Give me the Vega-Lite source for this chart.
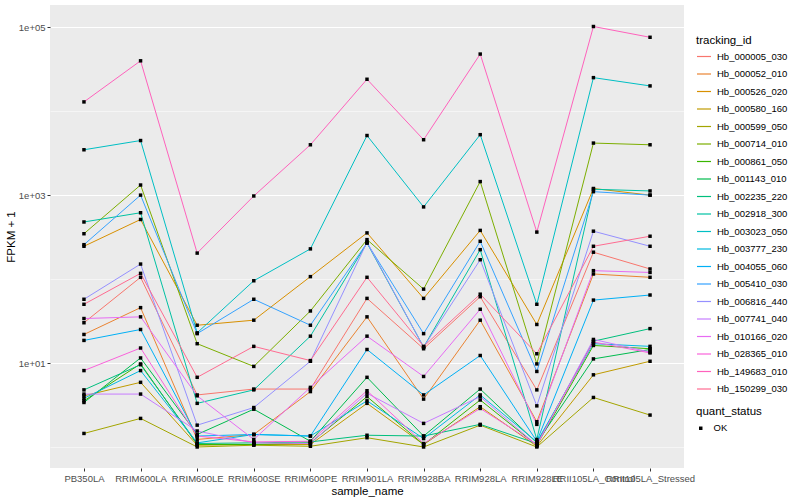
{
"$schema": "https://vega.github.io/schema/vega-lite/v6.json",
"autosize": "none",
"width": 634,
"height": 463,
"padding": {"left": 50, "top": 5, "right": 116, "bottom": 32},
"background": "white",
"config": {
  "view": {"fill": "#EBEBEB", "stroke": null},
  "font": "Liberation Sans",
  "axis": {"domain": false, "gridColor": "white", "tickColor": "#333333", "tickSize": 3, "labelColor": "#4D4D4D", "labelFontSize": 9.5, "titleFontSize": 11.5, "titleFontWeight": "normal", "titleColor": "black", "labelPadding": 2},
  "legend": {"titleFontSize": 11.5, "titleFontWeight": "normal", "titleColor": "black", "labelFontSize": 9.5, "labelColor": "black", "padding": 0}
},
"data": {"values": [
{"tracking_id":"Hb_000005_030","sample_name":"PB350LA","fpkm1":30.2,"quant_status":"OK"},
{"tracking_id":"Hb_000005_030","sample_name":"RRIM600LA","fpkm1":105,"quant_status":"OK"},
{"tracking_id":"Hb_000005_030","sample_name":"RRIM600LE","fpkm1":4.17,"quant_status":"OK"},
{"tracking_id":"Hb_000005_030","sample_name":"RRIM600SE","fpkm1":4.9,"quant_status":"OK"},
{"tracking_id":"Hb_000005_030","sample_name":"RRIM600PE","fpkm1":4.9,"quant_status":"OK"},
{"tracking_id":"Hb_000005_030","sample_name":"RRIM901LA","fpkm1":58.9,"quant_status":"OK"},
{"tracking_id":"Hb_000005_030","sample_name":"RRIM928BA","fpkm1":14.8,"quant_status":"OK"},
{"tracking_id":"Hb_000005_030","sample_name":"RRIM928LA","fpkm1":61.7,"quant_status":"OK"},
{"tracking_id":"Hb_000005_030","sample_name":"RRIM928LE","fpkm1":4.79,"quant_status":"OK"},
{"tracking_id":"Hb_000005_030","sample_name":"RRII105LA_Control","fpkm1":209,"quant_status":"OK"},
{"tracking_id":"Hb_000005_030","sample_name":"RRII105LA_Stressed","fpkm1":132,"quant_status":"OK"},
{"tracking_id":"Hb_000052_010","sample_name":"PB350LA","fpkm1":21.9,"quant_status":"OK"},
{"tracking_id":"Hb_000052_010","sample_name":"RRIM600LA","fpkm1":45.7,"quant_status":"OK"},
{"tracking_id":"Hb_000052_010","sample_name":"RRIM600LE","fpkm1":1.23,"quant_status":"OK"},
{"tracking_id":"Hb_000052_010","sample_name":"RRIM600SE","fpkm1":1.41,"quant_status":"OK"},
{"tracking_id":"Hb_000052_010","sample_name":"RRIM600PE","fpkm1":4.57,"quant_status":"OK"},
{"tracking_id":"Hb_000052_010","sample_name":"RRIM901LA","fpkm1":35.5,"quant_status":"OK"},
{"tracking_id":"Hb_000052_010","sample_name":"RRIM928BA","fpkm1":3.72,"quant_status":"OK"},
{"tracking_id":"Hb_000052_010","sample_name":"RRIM928LA","fpkm1":32.4,"quant_status":"OK"},
{"tracking_id":"Hb_000052_010","sample_name":"RRIM928LE","fpkm1":2.0,"quant_status":"OK"},
{"tracking_id":"Hb_000052_010","sample_name":"RRII105LA_Control","fpkm1":115,"quant_status":"OK"},
{"tracking_id":"Hb_000052_010","sample_name":"RRII105LA_Stressed","fpkm1":105,"quant_status":"OK"},
{"tracking_id":"Hb_000526_020","sample_name":"PB350LA","fpkm1":246,"quant_status":"OK"},
{"tracking_id":"Hb_000526_020","sample_name":"RRIM600LA","fpkm1":513,"quant_status":"OK"},
{"tracking_id":"Hb_000526_020","sample_name":"RRIM600LE","fpkm1":28.2,"quant_status":"OK"},
{"tracking_id":"Hb_000526_020","sample_name":"RRIM600SE","fpkm1":32.4,"quant_status":"OK"},
{"tracking_id":"Hb_000526_020","sample_name":"RRIM600PE","fpkm1":107,"quant_status":"OK"},
{"tracking_id":"Hb_000526_020","sample_name":"RRIM901LA","fpkm1":355,"quant_status":"OK"},
{"tracking_id":"Hb_000526_020","sample_name":"RRIM928BA","fpkm1":58.9,"quant_status":"OK"},
{"tracking_id":"Hb_000526_020","sample_name":"RRIM928LA","fpkm1":380,"quant_status":"OK"},
{"tracking_id":"Hb_000526_020","sample_name":"RRIM928LE","fpkm1":28.8,"quant_status":"OK"},
{"tracking_id":"Hb_000526_020","sample_name":"RRII105LA_Control","fpkm1":1200,"quant_status":"OK"},
{"tracking_id":"Hb_000526_020","sample_name":"RRII105LA_Stressed","fpkm1":1000,"quant_status":"OK"},
{"tracking_id":"Hb_000580_160","sample_name":"PB350LA","fpkm1":4.07,"quant_status":"OK"},
{"tracking_id":"Hb_000580_160","sample_name":"RRIM600LA","fpkm1":5.89,"quant_status":"OK"},
{"tracking_id":"Hb_000580_160","sample_name":"RRIM600LE","fpkm1":1.05,"quant_status":"OK"},
{"tracking_id":"Hb_000580_160","sample_name":"RRIM600SE","fpkm1":1.07,"quant_status":"OK"},
{"tracking_id":"Hb_000580_160","sample_name":"RRIM600PE","fpkm1":1.07,"quant_status":"OK"},
{"tracking_id":"Hb_000580_160","sample_name":"RRIM901LA","fpkm1":3.31,"quant_status":"OK"},
{"tracking_id":"Hb_000580_160","sample_name":"RRIM928BA","fpkm1":1.07,"quant_status":"OK"},
{"tracking_id":"Hb_000580_160","sample_name":"RRIM928LA","fpkm1":3.02,"quant_status":"OK"},
{"tracking_id":"Hb_000580_160","sample_name":"RRIM928LE","fpkm1":1.02,"quant_status":"OK"},
{"tracking_id":"Hb_000580_160","sample_name":"RRII105LA_Control","fpkm1":7.24,"quant_status":"OK"},
{"tracking_id":"Hb_000580_160","sample_name":"RRII105LA_Stressed","fpkm1":10.5,"quant_status":"OK"},
{"tracking_id":"Hb_000599_050","sample_name":"PB350LA","fpkm1":1.45,"quant_status":"OK"},
{"tracking_id":"Hb_000599_050","sample_name":"RRIM600LA","fpkm1":2.19,"quant_status":"OK"},
{"tracking_id":"Hb_000599_050","sample_name":"RRIM600LE","fpkm1":1.0,"quant_status":"OK"},
{"tracking_id":"Hb_000599_050","sample_name":"RRIM600SE","fpkm1":1.05,"quant_status":"OK"},
{"tracking_id":"Hb_000599_050","sample_name":"RRIM600PE","fpkm1":1.02,"quant_status":"OK"},
{"tracking_id":"Hb_000599_050","sample_name":"RRIM901LA","fpkm1":1.29,"quant_status":"OK"},
{"tracking_id":"Hb_000599_050","sample_name":"RRIM928BA","fpkm1":1.0,"quant_status":"OK"},
{"tracking_id":"Hb_000599_050","sample_name":"RRIM928LA","fpkm1":1.82,"quant_status":"OK"},
{"tracking_id":"Hb_000599_050","sample_name":"RRIM928LE","fpkm1":1.0,"quant_status":"OK"},
{"tracking_id":"Hb_000599_050","sample_name":"RRII105LA_Control","fpkm1":3.89,"quant_status":"OK"},
{"tracking_id":"Hb_000599_050","sample_name":"RRII105LA_Stressed","fpkm1":2.4,"quant_status":"OK"},
{"tracking_id":"Hb_000714_010","sample_name":"PB350LA","fpkm1":347,"quant_status":"OK"},
{"tracking_id":"Hb_000714_010","sample_name":"RRIM600LA","fpkm1":1320,"quant_status":"OK"},
{"tracking_id":"Hb_000714_010","sample_name":"RRIM600LE","fpkm1":17.0,"quant_status":"OK"},
{"tracking_id":"Hb_000714_010","sample_name":"RRIM600SE","fpkm1":9.12,"quant_status":"OK"},
{"tracking_id":"Hb_000714_010","sample_name":"RRIM600PE","fpkm1":41.7,"quant_status":"OK"},
{"tracking_id":"Hb_000714_010","sample_name":"RRIM901LA","fpkm1":295,"quant_status":"OK"},
{"tracking_id":"Hb_000714_010","sample_name":"RRIM928BA","fpkm1":75.9,"quant_status":"OK"},
{"tracking_id":"Hb_000714_010","sample_name":"RRIM928LA","fpkm1":1450,"quant_status":"OK"},
{"tracking_id":"Hb_000714_010","sample_name":"RRIM928LE","fpkm1":9.77,"quant_status":"OK"},
{"tracking_id":"Hb_000714_010","sample_name":"RRII105LA_Control","fpkm1":4170,"quant_status":"OK"},
{"tracking_id":"Hb_000714_010","sample_name":"RRII105LA_Stressed","fpkm1":3980,"quant_status":"OK"},
{"tracking_id":"Hb_000861_050","sample_name":"PB350LA","fpkm1":3.55,"quant_status":"OK"},
{"tracking_id":"Hb_000861_050","sample_name":"RRIM600LA","fpkm1":9.77,"quant_status":"OK"},
{"tracking_id":"Hb_000861_050","sample_name":"RRIM600LE","fpkm1":1.07,"quant_status":"OK"},
{"tracking_id":"Hb_000861_050","sample_name":"RRIM600SE","fpkm1":1.07,"quant_status":"OK"},
{"tracking_id":"Hb_000861_050","sample_name":"RRIM600PE","fpkm1":1.12,"quant_status":"OK"},
{"tracking_id":"Hb_000861_050","sample_name":"RRIM901LA","fpkm1":3.98,"quant_status":"OK"},
{"tracking_id":"Hb_000861_050","sample_name":"RRIM928BA","fpkm1":1.07,"quant_status":"OK"},
{"tracking_id":"Hb_000861_050","sample_name":"RRIM928LA","fpkm1":3.63,"quant_status":"OK"},
{"tracking_id":"Hb_000861_050","sample_name":"RRIM928LE","fpkm1":1.05,"quant_status":"OK"},
{"tracking_id":"Hb_000861_050","sample_name":"RRII105LA_Control","fpkm1":16.2,"quant_status":"OK"},
{"tracking_id":"Hb_000861_050","sample_name":"RRII105LA_Stressed","fpkm1":14.8,"quant_status":"OK"},
{"tracking_id":"Hb_001143_010","sample_name":"PB350LA","fpkm1":3.39,"quant_status":"OK"},
{"tracking_id":"Hb_001143_010","sample_name":"RRIM600LA","fpkm1":11.5,"quant_status":"OK"},
{"tracking_id":"Hb_001143_010","sample_name":"RRIM600LE","fpkm1":1.41,"quant_status":"OK"},
{"tracking_id":"Hb_001143_010","sample_name":"RRIM600SE","fpkm1":2.82,"quant_status":"OK"},
{"tracking_id":"Hb_001143_010","sample_name":"RRIM600PE","fpkm1":1.17,"quant_status":"OK"},
{"tracking_id":"Hb_001143_010","sample_name":"RRIM901LA","fpkm1":6.76,"quant_status":"OK"},
{"tracking_id":"Hb_001143_010","sample_name":"RRIM928BA","fpkm1":1.35,"quant_status":"OK"},
{"tracking_id":"Hb_001143_010","sample_name":"RRIM928LA","fpkm1":4.9,"quant_status":"OK"},
{"tracking_id":"Hb_001143_010","sample_name":"RRIM928LE","fpkm1":1.12,"quant_status":"OK"},
{"tracking_id":"Hb_001143_010","sample_name":"RRII105LA_Control","fpkm1":11.2,"quant_status":"OK"},
{"tracking_id":"Hb_001143_010","sample_name":"RRII105LA_Stressed","fpkm1":14.5,"quant_status":"OK"},
{"tracking_id":"Hb_002235_220","sample_name":"PB350LA","fpkm1":4.79,"quant_status":"OK"},
{"tracking_id":"Hb_002235_220","sample_name":"RRIM600LA","fpkm1":9.55,"quant_status":"OK"},
{"tracking_id":"Hb_002235_220","sample_name":"RRIM600LE","fpkm1":1.10,"quant_status":"OK"},
{"tracking_id":"Hb_002235_220","sample_name":"RRIM600SE","fpkm1":1.12,"quant_status":"OK"},
{"tracking_id":"Hb_002235_220","sample_name":"RRIM600PE","fpkm1":1.15,"quant_status":"OK"},
{"tracking_id":"Hb_002235_220","sample_name":"RRIM901LA","fpkm1":1.38,"quant_status":"OK"},
{"tracking_id":"Hb_002235_220","sample_name":"RRIM928BA","fpkm1":1.35,"quant_status":"OK"},
{"tracking_id":"Hb_002235_220","sample_name":"RRIM928LA","fpkm1":1.86,"quant_status":"OK"},
{"tracking_id":"Hb_002235_220","sample_name":"RRIM928LE","fpkm1":1.10,"quant_status":"OK"},
{"tracking_id":"Hb_002235_220","sample_name":"RRII105LA_Control","fpkm1":18.2,"quant_status":"OK"},
{"tracking_id":"Hb_002235_220","sample_name":"RRII105LA_Stressed","fpkm1":25.7,"quant_status":"OK"},
{"tracking_id":"Hb_002918_300","sample_name":"PB350LA","fpkm1":479,"quant_status":"OK"},
{"tracking_id":"Hb_002918_300","sample_name":"RRIM600LA","fpkm1":617,"quant_status":"OK"},
{"tracking_id":"Hb_002918_300","sample_name":"RRIM600LE","fpkm1":3.31,"quant_status":"OK"},
{"tracking_id":"Hb_002918_300","sample_name":"RRIM600SE","fpkm1":4.79,"quant_status":"OK"},
{"tracking_id":"Hb_002918_300","sample_name":"RRIM600PE","fpkm1":20.9,"quant_status":"OK"},
{"tracking_id":"Hb_002918_300","sample_name":"RRIM901LA","fpkm1":269,"quant_status":"OK"},
{"tracking_id":"Hb_002918_300","sample_name":"RRIM928BA","fpkm1":15.5,"quant_status":"OK"},
{"tracking_id":"Hb_002918_300","sample_name":"RRIM928LA","fpkm1":224,"quant_status":"OK"},
{"tracking_id":"Hb_002918_300","sample_name":"RRIM928LE","fpkm1":1.23,"quant_status":"OK"},
{"tracking_id":"Hb_002918_300","sample_name":"RRII105LA_Control","fpkm1":1175,"quant_status":"OK"},
{"tracking_id":"Hb_002918_300","sample_name":"RRII105LA_Stressed","fpkm1":1122,"quant_status":"OK"},
{"tracking_id":"Hb_003023_050","sample_name":"PB350LA","fpkm1":3470,"quant_status":"OK"},
{"tracking_id":"Hb_003023_050","sample_name":"RRIM600LA","fpkm1":4470,"quant_status":"OK"},
{"tracking_id":"Hb_003023_050","sample_name":"RRIM600LE","fpkm1":22.9,"quant_status":"OK"},
{"tracking_id":"Hb_003023_050","sample_name":"RRIM600SE","fpkm1":95.5,"quant_status":"OK"},
{"tracking_id":"Hb_003023_050","sample_name":"RRIM600PE","fpkm1":229,"quant_status":"OK"},
{"tracking_id":"Hb_003023_050","sample_name":"RRIM901LA","fpkm1":5130,"quant_status":"OK"},
{"tracking_id":"Hb_003023_050","sample_name":"RRIM928BA","fpkm1":724,"quant_status":"OK"},
{"tracking_id":"Hb_003023_050","sample_name":"RRIM928LA","fpkm1":5250,"quant_status":"OK"},
{"tracking_id":"Hb_003023_050","sample_name":"RRIM928LE","fpkm1":50.1,"quant_status":"OK"},
{"tracking_id":"Hb_003023_050","sample_name":"RRII105LA_Control","fpkm1":25100,"quant_status":"OK"},
{"tracking_id":"Hb_003023_050","sample_name":"RRII105LA_Stressed","fpkm1":20000,"quant_status":"OK"},
{"tracking_id":"Hb_003777_230","sample_name":"PB350LA","fpkm1":3.8,"quant_status":"OK"},
{"tracking_id":"Hb_003777_230","sample_name":"RRIM600LA","fpkm1":8.13,"quant_status":"OK"},
{"tracking_id":"Hb_003777_230","sample_name":"RRIM600LE","fpkm1":1.12,"quant_status":"OK"},
{"tracking_id":"Hb_003777_230","sample_name":"RRIM600SE","fpkm1":1.41,"quant_status":"OK"},
{"tracking_id":"Hb_003777_230","sample_name":"RRIM600PE","fpkm1":1.35,"quant_status":"OK"},
{"tracking_id":"Hb_003777_230","sample_name":"RRIM901LA","fpkm1":3.55,"quant_status":"OK"},
{"tracking_id":"Hb_003777_230","sample_name":"RRIM928BA","fpkm1":1.26,"quant_status":"OK"},
{"tracking_id":"Hb_003777_230","sample_name":"RRIM928LA","fpkm1":4.17,"quant_status":"OK"},
{"tracking_id":"Hb_003777_230","sample_name":"RRIM928LE","fpkm1":1.15,"quant_status":"OK"},
{"tracking_id":"Hb_003777_230","sample_name":"RRII105LA_Control","fpkm1":17.0,"quant_status":"OK"},
{"tracking_id":"Hb_003777_230","sample_name":"RRII105LA_Stressed","fpkm1":15.8,"quant_status":"OK"},
{"tracking_id":"Hb_004055_060","sample_name":"PB350LA","fpkm1":18.6,"quant_status":"OK"},
{"tracking_id":"Hb_004055_060","sample_name":"RRIM600LA","fpkm1":25.1,"quant_status":"OK"},
{"tracking_id":"Hb_004055_060","sample_name":"RRIM600LE","fpkm1":1.35,"quant_status":"OK"},
{"tracking_id":"Hb_004055_060","sample_name":"RRIM600SE","fpkm1":1.41,"quant_status":"OK"},
{"tracking_id":"Hb_004055_060","sample_name":"RRIM600PE","fpkm1":1.35,"quant_status":"OK"},
{"tracking_id":"Hb_004055_060","sample_name":"RRIM901LA","fpkm1":14.5,"quant_status":"OK"},
{"tracking_id":"Hb_004055_060","sample_name":"RRIM928BA","fpkm1":4.17,"quant_status":"OK"},
{"tracking_id":"Hb_004055_060","sample_name":"RRIM928LA","fpkm1":12.3,"quant_status":"OK"},
{"tracking_id":"Hb_004055_060","sample_name":"RRIM928LE","fpkm1":1.17,"quant_status":"OK"},
{"tracking_id":"Hb_004055_060","sample_name":"RRII105LA_Control","fpkm1":56.2,"quant_status":"OK"},
{"tracking_id":"Hb_004055_060","sample_name":"RRII105LA_Stressed","fpkm1":64.6,"quant_status":"OK"},
{"tracking_id":"Hb_005410_030","sample_name":"PB350LA","fpkm1":257,"quant_status":"OK"},
{"tracking_id":"Hb_005410_030","sample_name":"RRIM600LA","fpkm1":1000,"quant_status":"OK"},
{"tracking_id":"Hb_005410_030","sample_name":"RRIM600LE","fpkm1":22.4,"quant_status":"OK"},
{"tracking_id":"Hb_005410_030","sample_name":"RRIM600SE","fpkm1":57.5,"quant_status":"OK"},
{"tracking_id":"Hb_005410_030","sample_name":"RRIM600PE","fpkm1":28.2,"quant_status":"OK"},
{"tracking_id":"Hb_005410_030","sample_name":"RRIM901LA","fpkm1":269,"quant_status":"OK"},
{"tracking_id":"Hb_005410_030","sample_name":"RRIM928BA","fpkm1":22.4,"quant_status":"OK"},
{"tracking_id":"Hb_005410_030","sample_name":"RRIM928LA","fpkm1":282,"quant_status":"OK"},
{"tracking_id":"Hb_005410_030","sample_name":"RRIM928LE","fpkm1":7.94,"quant_status":"OK"},
{"tracking_id":"Hb_005410_030","sample_name":"RRII105LA_Control","fpkm1":1100,"quant_status":"OK"},
{"tracking_id":"Hb_005410_030","sample_name":"RRII105LA_Stressed","fpkm1":1000,"quant_status":"OK"},
{"tracking_id":"Hb_006816_440","sample_name":"PB350LA","fpkm1":57.5,"quant_status":"OK"},
{"tracking_id":"Hb_006816_440","sample_name":"RRIM600LA","fpkm1":151,"quant_status":"OK"},
{"tracking_id":"Hb_006816_440","sample_name":"RRIM600LE","fpkm1":1.82,"quant_status":"OK"},
{"tracking_id":"Hb_006816_440","sample_name":"RRIM600SE","fpkm1":2.95,"quant_status":"OK"},
{"tracking_id":"Hb_006816_440","sample_name":"RRIM600PE","fpkm1":10.5,"quant_status":"OK"},
{"tracking_id":"Hb_006816_440","sample_name":"RRIM901LA","fpkm1":275,"quant_status":"OK"},
{"tracking_id":"Hb_006816_440","sample_name":"RRIM928BA","fpkm1":15.5,"quant_status":"OK"},
{"tracking_id":"Hb_006816_440","sample_name":"RRIM928LA","fpkm1":170,"quant_status":"OK"},
{"tracking_id":"Hb_006816_440","sample_name":"RRIM928LE","fpkm1":3.09,"quant_status":"OK"},
{"tracking_id":"Hb_006816_440","sample_name":"RRII105LA_Control","fpkm1":372,"quant_status":"OK"},
{"tracking_id":"Hb_006816_440","sample_name":"RRII105LA_Stressed","fpkm1":246,"quant_status":"OK"},
{"tracking_id":"Hb_007741_040","sample_name":"PB350LA","fpkm1":4.27,"quant_status":"OK"},
{"tracking_id":"Hb_007741_040","sample_name":"RRIM600LA","fpkm1":4.27,"quant_status":"OK"},
{"tracking_id":"Hb_007741_040","sample_name":"RRIM600LE","fpkm1":1.55,"quant_status":"OK"},
{"tracking_id":"Hb_007741_040","sample_name":"RRIM600SE","fpkm1":1.12,"quant_status":"OK"},
{"tracking_id":"Hb_007741_040","sample_name":"RRIM600PE","fpkm1":1.10,"quant_status":"OK"},
{"tracking_id":"Hb_007741_040","sample_name":"RRIM901LA","fpkm1":4.37,"quant_status":"OK"},
{"tracking_id":"Hb_007741_040","sample_name":"RRIM928BA","fpkm1":1.91,"quant_status":"OK"},
{"tracking_id":"Hb_007741_040","sample_name":"RRIM928LA","fpkm1":3.98,"quant_status":"OK"},
{"tracking_id":"Hb_007741_040","sample_name":"RRIM928LE","fpkm1":1.05,"quant_status":"OK"},
{"tracking_id":"Hb_007741_040","sample_name":"RRII105LA_Control","fpkm1":19.1,"quant_status":"OK"},
{"tracking_id":"Hb_007741_040","sample_name":"RRII105LA_Stressed","fpkm1":13.5,"quant_status":"OK"},
{"tracking_id":"Hb_010166_020","sample_name":"PB350LA","fpkm1":33.9,"quant_status":"OK"},
{"tracking_id":"Hb_010166_020","sample_name":"RRIM600LA","fpkm1":35.5,"quant_status":"OK"},
{"tracking_id":"Hb_010166_020","sample_name":"RRIM600LE","fpkm1":4.07,"quant_status":"OK"},
{"tracking_id":"Hb_010166_020","sample_name":"RRIM600SE","fpkm1":1.23,"quant_status":"OK"},
{"tracking_id":"Hb_010166_020","sample_name":"RRIM600PE","fpkm1":5.13,"quant_status":"OK"},
{"tracking_id":"Hb_010166_020","sample_name":"RRIM901LA","fpkm1":20.9,"quant_status":"OK"},
{"tracking_id":"Hb_010166_020","sample_name":"RRIM928BA","fpkm1":6.92,"quant_status":"OK"},
{"tracking_id":"Hb_010166_020","sample_name":"RRIM928LA","fpkm1":43.7,"quant_status":"OK"},
{"tracking_id":"Hb_010166_020","sample_name":"RRIM928LE","fpkm1":1.86,"quant_status":"OK"},
{"tracking_id":"Hb_010166_020","sample_name":"RRII105LA_Control","fpkm1":126,"quant_status":"OK"},
{"tracking_id":"Hb_010166_020","sample_name":"RRII105LA_Stressed","fpkm1":120,"quant_status":"OK"},
{"tracking_id":"Hb_028365_010","sample_name":"PB350LA","fpkm1":8.13,"quant_status":"OK"},
{"tracking_id":"Hb_028365_010","sample_name":"RRIM600LA","fpkm1":15.1,"quant_status":"OK"},
{"tracking_id":"Hb_028365_010","sample_name":"RRIM600LE","fpkm1":1.35,"quant_status":"OK"},
{"tracking_id":"Hb_028365_010","sample_name":"RRIM600SE","fpkm1":1.15,"quant_status":"OK"},
{"tracking_id":"Hb_028365_010","sample_name":"RRIM600PE","fpkm1":1.17,"quant_status":"OK"},
{"tracking_id":"Hb_028365_010","sample_name":"RRIM901LA","fpkm1":4.68,"quant_status":"OK"},
{"tracking_id":"Hb_028365_010","sample_name":"RRIM928BA","fpkm1":1.10,"quant_status":"OK"},
{"tracking_id":"Hb_028365_010","sample_name":"RRIM928LA","fpkm1":2.88,"quant_status":"OK"},
{"tracking_id":"Hb_028365_010","sample_name":"RRIM928LE","fpkm1":1.07,"quant_status":"OK"},
{"tracking_id":"Hb_028365_010","sample_name":"RRII105LA_Control","fpkm1":17.8,"quant_status":"OK"},
{"tracking_id":"Hb_028365_010","sample_name":"RRII105LA_Stressed","fpkm1":13.2,"quant_status":"OK"},
{"tracking_id":"Hb_149683_010","sample_name":"PB350LA","fpkm1":12900,"quant_status":"OK"},
{"tracking_id":"Hb_149683_010","sample_name":"RRIM600LA","fpkm1":39800,"quant_status":"OK"},
{"tracking_id":"Hb_149683_010","sample_name":"RRIM600LE","fpkm1":204,"quant_status":"OK"},
{"tracking_id":"Hb_149683_010","sample_name":"RRIM600SE","fpkm1":977,"quant_status":"OK"},
{"tracking_id":"Hb_149683_010","sample_name":"RRIM600PE","fpkm1":3980,"quant_status":"OK"},
{"tracking_id":"Hb_149683_010","sample_name":"RRIM901LA","fpkm1":24000,"quant_status":"OK"},
{"tracking_id":"Hb_149683_010","sample_name":"RRIM928BA","fpkm1":4570,"quant_status":"OK"},
{"tracking_id":"Hb_149683_010","sample_name":"RRIM928LA","fpkm1":47900,"quant_status":"OK"},
{"tracking_id":"Hb_149683_010","sample_name":"RRIM928LE","fpkm1":363,"quant_status":"OK"},
{"tracking_id":"Hb_149683_010","sample_name":"RRII105LA_Control","fpkm1":102000,"quant_status":"OK"},
{"tracking_id":"Hb_149683_010","sample_name":"RRII105LA_Stressed","fpkm1":75900,"quant_status":"OK"},
{"tracking_id":"Hb_150299_030","sample_name":"PB350LA","fpkm1":50.1,"quant_status":"OK"},
{"tracking_id":"Hb_150299_030","sample_name":"RRIM600LA","fpkm1":117,"quant_status":"OK"},
{"tracking_id":"Hb_150299_030","sample_name":"RRIM600LE","fpkm1":6.76,"quant_status":"OK"},
{"tracking_id":"Hb_150299_030","sample_name":"RRIM600SE","fpkm1":15.8,"quant_status":"OK"},
{"tracking_id":"Hb_150299_030","sample_name":"RRIM600PE","fpkm1":10.7,"quant_status":"OK"},
{"tracking_id":"Hb_150299_030","sample_name":"RRIM901LA","fpkm1":105,"quant_status":"OK"},
{"tracking_id":"Hb_150299_030","sample_name":"RRIM928BA","fpkm1":15.8,"quant_status":"OK"},
{"tracking_id":"Hb_150299_030","sample_name":"RRIM928LA","fpkm1":66.1,"quant_status":"OK"},
{"tracking_id":"Hb_150299_030","sample_name":"RRIM928LE","fpkm1":12.9,"quant_status":"OK"},
{"tracking_id":"Hb_150299_030","sample_name":"RRII105LA_Control","fpkm1":246,"quant_status":"OK"},
{"tracking_id":"Hb_150299_030","sample_name":"RRII105LA_Stressed","fpkm1":324,"quant_status":"OK"}
]},
"encoding": {
  "x": {"field": "sample_name", "type": "nominal",
    "scale": {"type": "point", "padding": 0.6, "domain": ["PB350LA","RRIM600LA","RRIM600LE","RRIM600SE","RRIM600PE","RRIM901LA","RRIM928BA","RRIM928LA","RRIM928LE","RRII105LA_Control","RRII105LA_Stressed"]},
    "axis": {"labelAngle": 0, "labelOverlap": false, "labelBound": false, "gridWidth": 1.1, "title": "sample_name", "titlePadding": 3}},
  "y": {"field": "fpkm1", "type": "quantitative",
    "scale": {"type": "log", "domain": [0.562, 184000], "nice": false},
    "axis": {"values": [1,10,100,1000,10000,100000],
      "labelExpr": "datum.value==10?'1e+01':datum.value==1000?'1e+03':datum.value==100000?'1e+05':''",
      "gridWidth": {"condition": {"test": "datum.value==10||datum.value==1000||datum.value==100000", "value": 1.1}, "value": 0.5},
      "tickOpacity": {"condition": {"test": "datum.value==10||datum.value==1000||datum.value==100000", "value": 1}, "value": 0},
      "title": "FPKM + 1", "titlePadding": 2}}
},
"layer": [
  {"mark": {"type": "line", "strokeWidth": 1},
   "encoding": {
     "color": {"field": "tracking_id", "type": "nominal",
       "scale": {"domain": ["Hb_000005_030","Hb_000052_010","Hb_000526_020","Hb_000580_160","Hb_000599_050","Hb_000714_010","Hb_000861_050","Hb_001143_010","Hb_002235_220","Hb_002918_300","Hb_003023_050","Hb_003777_230","Hb_004055_060","Hb_005410_030","Hb_006816_440","Hb_007741_040","Hb_010166_020","Hb_028365_010","Hb_149683_010","Hb_150299_030"],
         "range": ["#F8766D","#EA8331","#D89000","#C09B00","#A3A500","#7CAE00","#39B600","#00BB4E","#00BF7D","#00C1A3","#00BFC4","#00BAE0","#00B0F6","#35A2FF","#9590FF","#C77CFF","#E76BF3","#FA62DB","#FF62BC","#FF6C91"]},
       "legend": {"orient": "none", "legendX": 646, "legendY": 30, "symbolType": "stroke", "symbolSize": 196, "symbolStrokeWidth": 1.2, "rowPadding": 4.5, "labelOffset": 5, "titlePadding": 2}},
     "order": {"value": null}
   }},
  {"mark": {"type": "point", "filled": true, "color": "black", "size": 12, "opacity": 1},
   "encoding": {
     "shape": {"field": "quant_status", "type": "nominal", "scale": {"range": ["square"]},
       "legend": {"orient": "none", "legendX": 646, "legendY": 401, "symbolFillColor": "black", "symbolStrokeColor": "black", "symbolSize": 12, "labelOffset": 8, "titlePadding": 6}}
   }}
]
}
